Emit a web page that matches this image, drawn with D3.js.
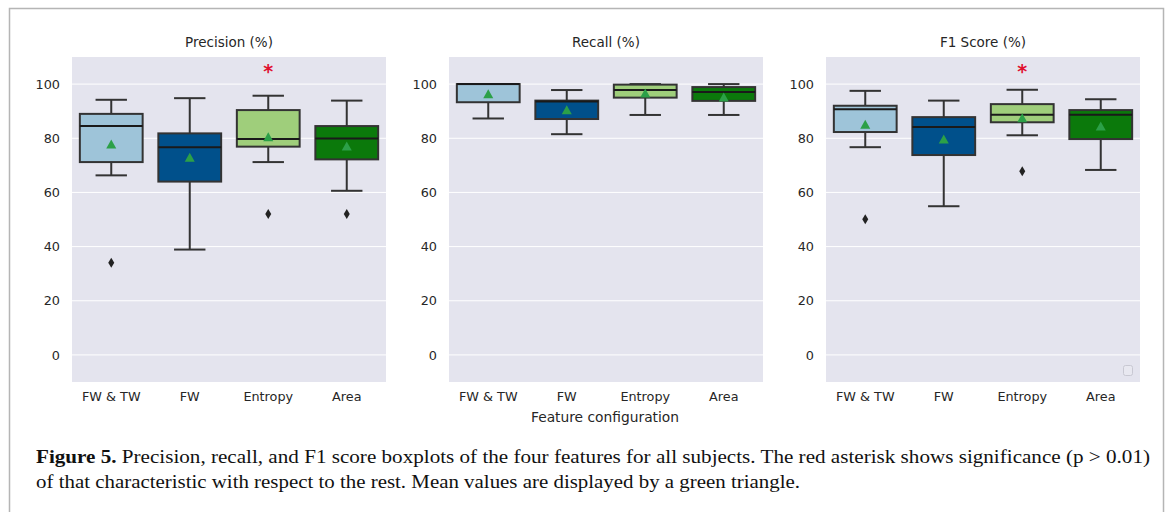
<!DOCTYPE html>
<html>
<head>
<meta charset="utf-8">
<script src="https://cdn.jsdelivr.net/npm/d3@7"></script>
<style>
  body { margin: 0; background: #fff; }
  svg { display: block; }
</style>
</head>
<body>
<div id="chart"></div>
<script>
// data
const features = ['FW & TW', 'FW', 'Entropy', 'Area']
const metrics = ['Precision (%)', 'Recall (%)', 'F1 Score (%)']
const yTicks = [0, 20, 40, 60, 80, 100]

// [whiskerLow, q1, median, q3, whiskerHigh] per feature
const precisionStats = [
  [66.3, 71.2, 84.5, 89.0, 94.2],
  [38.9, 64.0, 76.7, 81.8, 94.8],
  [71.2, 76.9, 79.7, 90.4, 95.7],
  [60.6, 72.2, 79.9, 84.5, 93.9]
]
const recallStats = [
  [87.3, 93.3, 100, 100, 100],
  [81.5, 87.1, 93.6, 93.9, 97.8],
  [88.6, 95.0, 97.8, 99.8, 100],
  [88.6, 93.8, 97.1, 98.9, 100]
]
const f1Stats = [
  [76.7, 82.3, 90.7, 92.0, 97.5],
  [54.9, 73.8, 84.2, 87.8, 93.9],
  [81.1, 85.9, 88.7, 92.6, 97.9],
  [68.3, 79.7, 88.7, 90.4, 94.4]
]
const precisionMeans = [77.9, 73.0, 80.6, 77.1]
const recallMeans = [96.4, 90.5, 96.7, 95.2]
const f1Means = [85.2, 79.7, 87.6, 84.5]
// outliers as [featureIndex, value]
const precisionOutliers = [[0, 34], [2, 52], [3, 52]]
const recallOutliers = []
const f1Outliers = [[0, 50.1], [2, 67.8]]
// significance asterisk: feature index list
const precisionStar = [2]
const recallStar = []
const f1Star = [2]

const colors = ['#9ec4d9', '#00508b', '#9fce7b', '#0b790b']

const panels = [
  { title: metrics[0], stats: precisionStats, means: precisionMeans, outliers: precisionOutliers, star: precisionStar },
  { title: metrics[1], stats: recallStats, means: recallMeans, outliers: recallOutliers, star: recallStar },
  { title: metrics[2], stats: f1Stats, means: f1Means, outliers: f1Outliers, star: f1Star }
]

const W = 1169, H = 512
const svg = d3.select('#chart').append('svg').attr('width', W).attr('height', H)

// figure frame
svg.append('rect')
  .attr('x', 9.5).attr('y', 8.5).attr('width', 1154).attr('height', 520)
  .attr('fill', 'none').attr('stroke', '#b5b5b5').attr('stroke-width', 1.5)

const lefts = [72, 449, 826]
const pw = 314, plotTop = 57, ph = 325

const y = d3.scaleLinear().domain([-10, 110]).range([plotTop + ph, plotTop])

panels.forEach((p, pi) => {
  const x0 = lefts[pi]
  const x = d3.scaleBand().domain(features).range([x0, x0 + pw])
  const g = svg.append('g')

  g.append('rect')
    .attr('x', x0).attr('y', plotTop).attr('width', pw).attr('height', ph)
    .attr('fill', '#e4e4ee')

  // grid
  g.selectAll('line.grid').data(yTicks).join('line')
    .attr('class', 'grid')
    .attr('x1', x0).attr('x2', x0 + pw)
    .attr('y1', d => y(d)).attr('y2', d => y(d))
    .attr('stroke', '#fff').attr('stroke-width', 1)

  // y axis
  const yAxis = g.append('g')
    .attr('transform', `translate(${x0 - 4},0)`)
    .call(d3.axisLeft(y).tickValues(yTicks).tickSize(0).tickPadding(8))
  yAxis.select('.domain').remove()
  yAxis.selectAll('text').attr('font-family', 'DejaVu Sans').attr('font-size', 12.8).attr('fill', '#262626')

  // x axis
  const xAxis = g.append('g')
    .attr('transform', `translate(0,${plotTop + ph})`)
    .call(d3.axisBottom(x).tickSize(0).tickPadding(10))
  xAxis.select('.domain').remove()
  xAxis.selectAll('text').attr('font-family', 'DejaVu Sans').attr('font-size', 12.8).attr('fill', '#262626')

  g.append('text')
    .attr('x', x0 + pw / 2).attr('y', plotTop - 10)
    .attr('text-anchor', 'middle')
    .attr('font-family', 'DejaVu Sans').attr('font-size', 13.5).attr('fill', '#262626')
    .text(p.title)

  const bw = x.bandwidth() * 0.8
  const capW = bw / 2
  const edge = '#333'

  p.stats.forEach((s, i) => {
    const cx = x(features[i]) + x.bandwidth() / 2
    const [lo, q1, med, q3, hi] = s
    // whiskers
    g.append('line').attr('x1', cx).attr('x2', cx).attr('y1', y(hi)).attr('y2', y(q3))
      .attr('stroke', edge).attr('stroke-width', 2)
    g.append('line').attr('x1', cx).attr('x2', cx).attr('y1', y(q1)).attr('y2', y(lo))
      .attr('stroke', edge).attr('stroke-width', 2)
    g.append('line').attr('x1', cx - capW / 2).attr('x2', cx + capW / 2).attr('y1', y(hi)).attr('y2', y(hi))
      .attr('stroke', edge).attr('stroke-width', 2)
    g.append('line').attr('x1', cx - capW / 2).attr('x2', cx + capW / 2).attr('y1', y(lo)).attr('y2', y(lo))
      .attr('stroke', edge).attr('stroke-width', 2)
    // box
    g.append('rect')
      .attr('x', cx - bw / 2).attr('y', y(q3))
      .attr('width', bw).attr('height', Math.max(0.5, y(q1) - y(q3)))
      .attr('fill', colors[i]).attr('stroke', edge).attr('stroke-width', 2)
    // median
    g.append('line').attr('x1', cx - bw / 2).attr('x2', cx + bw / 2).attr('y1', y(med)).attr('y2', y(med))
      .attr('stroke', '#1a1a1a').attr('stroke-width', 2)
    // mean triangle
    const my = y(p.means[i])
    g.append('path')
      .attr('d', `M${cx - 5},${my + 4.5}L${cx + 5},${my + 4.5}L${cx},${my - 4.5}Z`)
      .attr('fill', '#2ca048')
  })

  // outliers as diamonds
  p.outliers.forEach(([fi, v]) => {
    const cx = x(features[fi]) + x.bandwidth() / 2
    const oy = y(v)
    g.append('path')
      .attr('d', `M${cx},${oy - 5}L${cx + 3},${oy}L${cx},${oy + 5}L${cx - 3},${oy}Z`)
      .attr('fill', '#222')
  })

  // significance asterisk
  p.star.forEach(fi => {
    const cx = x(features[fi]) + x.bandwidth() / 2
    g.append('text')
      .attr('x', cx).attr('y', y(105.5) + 9)
      .attr('text-anchor', 'middle')
      .attr('font-family', 'DejaVu Sans').attr('font-size', 19).attr('font-weight', 'bold')
      .attr('fill', '#e0102e')
      .text('*')
  })
})

// empty legend box in last panel
svg.append('rect')
  .attr('x', 1123.5).attr('y', 365.5).attr('width', 9).attr('height', 10).attr('rx', 2)
  .attr('fill', '#e8e8f0').attr('stroke', '#c8c8d2').attr('stroke-width', 1)

svg.append('text')
  .attr('x', 605).attr('y', 422)
  .attr('text-anchor', 'middle')
  .attr('font-family', 'DejaVu Sans').attr('font-size', 13.8).attr('fill', '#262626')
  .text('Feature configuration')

// caption
const cap = svg.append('g').attr('font-family', 'Liberation Serif').attr('font-size', 19).attr('fill', '#111')
const l1 = cap.append('text').attr('x', 36).attr('y', 463)
  .attr('textLength', 1114).attr('lengthAdjust', 'spacingAndGlyphs')
l1.append('tspan').attr('font-weight', 'bold').text('Figure 5.')
l1.append('tspan').text(' Precision, recall, and F1 score boxplots of the four features for all subjects. The red asterisk shows significance (p > 0.01)')
cap.append('text').attr('x', 36).attr('y', 488)
  .attr('textLength', 764).attr('lengthAdjust', 'spacingAndGlyphs')
  .text('of that characteristic with respect to the rest. Mean values are displayed by a green triangle.')
</script>
</body>
</html>
